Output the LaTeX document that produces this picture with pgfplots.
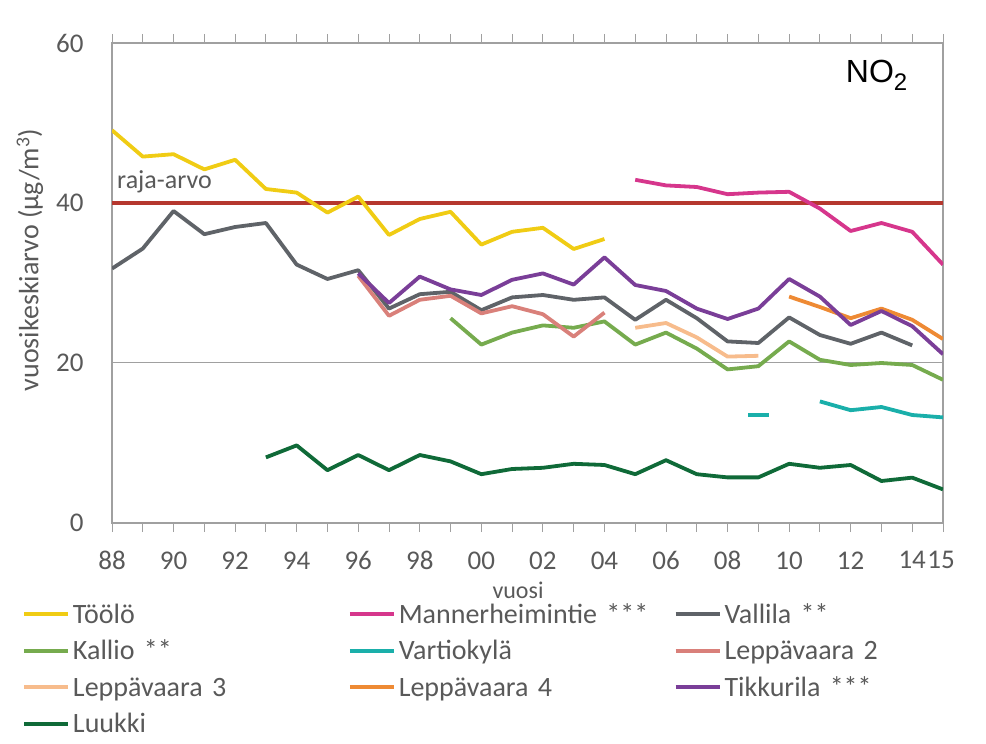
\documentclass[border=0pt]{standalone}
\usepackage{pgfplots}
\pgfplotsset{compat=1.18}
\usepackage{fontspec}
\setmainfont{Carlito}
\newfontfamily\arialfont{Liberation Sans}
\definecolor{txt}{HTML}{595959}
\definecolor{axgray}{HTML}{A0A0A0}
\definecolor{rajared}{HTML}{B5372E}
\definecolor{cToolo}{HTML}{F0CC14}
\definecolor{cManner}{HTML}{D6368C}
\definecolor{cVallila}{HTML}{5F6368}
\definecolor{cKallio}{HTML}{76AB4E}
\definecolor{cVartio}{HTML}{1AAFAA}
\definecolor{cLepp2}{HTML}{D9807A}
\definecolor{cLepp3}{HTML}{F7BC8C}
\definecolor{cLepp4}{HTML}{EE8A34}
\definecolor{cTikk}{HTML}{7A3E98}
\definecolor{cLuukki}{HTML}{0F6A38}
\begin{document}
\begin{tikzpicture}
\path[use as bounding box] (0,0) rectangle (986bp,744bp);
\begin{axis}[
  at={(112bp,221bp)}, anchor=south west,
  scale only axis, width=831bp, height=480bp,
  xmin=1988, xmax=2015, ymin=0, ymax=60,
  xtick={1988,1990,1992,1994,1996,1998,2000,2002,2004,2006,2008,2010,2012,2014,2015},
  xticklabels={88,90,92,94,96,98,00,02,04,06,08,10,12,14,\hspace*{-4bp}15},
  minor xtick={1989,1991,1993,1995,1997,1999,2001,2003,2005,2007,2009,2011,2013},
  ytick={0,20,40,60},
  /pgf/number format/assume math mode=true,
  tick label style={font=\fontsize{27bp}{32bp}\selectfont, text=txt},
  xticklabel style={yshift=-16bp},
  yticklabel style={xshift=-16bp},
  tick align=outside, major tick length=9bp, minor tick length=9bp,
  xtick style={draw=axgray, line width=1bp},
  minor tick style={draw=axgray, line width=1bp},
  ytick style={draw=none},
  axis line style={draw=axgray, line width=1.2bp},
  ymajorgrids, grid style={draw=axgray, line width=1bp},
  xlabel={vuosi},
  xlabel style={at={(axis description cs:0.4886,0)}, anchor=base, yshift=-75bp, font=\fontsize{24bp}{28bp}\selectfont, text=txt, inner sep=0pt},
  ylabel={vuosikeskiarvo (µg/m\textsuperscript{3})},
  ylabel style={at={(axis description cs:-0.0987,0.548)}, anchor=center, font=\fontsize{28bp}{32bp}\selectfont, text=txt, inner sep=0pt},
  legend columns=3,
  legend style={at={(axis description cs:-0.1083,-0.1667)}, anchor=north west, draw=none, fill=none, inner sep=0pt,
    font=\fontsize{28bp}{34bp}\selectfont, text=txt, row sep=10.5bp,
    nodes={inner sep=0pt, text height=20bp, text depth=6bp, text width=275bp, align=left},
    /tikz/every odd column/.style={column sep=3bp},
    /tikz/every even column/.style={column sep=0pt}},
  legend cell align=left,
  legend image code/.code={\draw[#1, line width=3.8bp] (0bp,2bp) -- (44bp,2bp);},
  every axis plot/.append style={line width=3.8bp, line join=round},
]
\addplot[draw=rajared, line width=4.5bp, forget plot] coordinates {(1988,40) (2015,40)};
% Toolo
\addplot[cToolo] coordinates {(1988,49.1) (1989,45.8) (1990,46.1) (1991,44.2) (1992,45.4) (1993,41.75) (1994,41.3) (1995,38.8) (1996,40.8) (1997,36.0) (1998,38.0) (1999,38.9) (2000,34.8) (2001,36.4) (2002,36.9) (2003,34.25) (2004,35.5)};
\addlegendentry{Töölö}
% Mannerheimintie
\addplot[cManner] coordinates {(2005,42.9) (2006,42.2) (2007,42.0) (2008,41.1) (2009,41.3) (2010,41.4) (2011,39.3) (2012,36.5) (2013,37.5) (2014,36.4) (2015,32.3)};
\addlegendentry{Mannerheimintie ***}
% Vallila
\addplot[cVallila] coordinates {(1988,31.8) (1989,34.3) (1990,39.0) (1991,36.1) (1992,37.0) (1993,37.5) (1994,32.3) (1995,30.5) (1996,31.6) (1997,26.8) (1998,28.6) (1999,28.9) (2000,26.6) (2001,28.2) (2002,28.5) (2003,27.9) (2004,28.2) (2005,25.4) (2006,27.9) (2007,25.6) (2008,22.7) (2009,22.5) (2010,25.7) (2011,23.5) (2012,22.4) (2013,23.8) (2014,22.2)};
\addlegendentry{Vallila **}
% Kallio
\addplot[cKallio] coordinates {(1999,25.6) (2000,22.3) (2001,23.8) (2002,24.7) (2003,24.4) (2004,25.2) (2005,22.3) (2006,23.8) (2007,21.8) (2008,19.2) (2009,19.6) (2010,22.7) (2011,20.4) (2012,19.75) (2013,20.0) (2014,19.75) (2015,17.9)};
\addlegendentry{Kallio **}
% Vartiokyla
\addplot[cVartio] coordinates {(2011,15.2) (2012,14.1) (2013,14.5) (2014,13.5) (2015,13.2)};
\addlegendentry{Vartiokylä}
% Leppavaara 2
\addplot[cLepp2] coordinates {(1996,30.9) (1997,25.9) (1998,27.9) (1999,28.4) (2000,26.2) (2001,27.1) (2002,26.1) (2003,23.3) (2004,26.3)};
\addlegendentry{Leppävaara 2}
% Leppavaara 3
\addplot[cLepp3] coordinates {(2005,24.4) (2006,25.0) (2007,23.2) (2008,20.8) (2009,20.9)};
\addlegendentry{Leppävaara 3}
% Leppavaara 4
\addplot[cLepp4] coordinates {(2010,28.3) (2011,27.0) (2012,25.6) (2013,26.8) (2014,25.4) (2015,23.0)};
\addlegendentry{Leppävaara 4}
% Tikkurila
\addplot[cTikk] coordinates {(1996,31.2) (1997,27.5) (1998,30.8) (1999,29.2) (2000,28.5) (2001,30.4) (2002,31.2) (2003,29.8) (2004,33.2) (2005,29.75) (2006,29.0) (2007,26.8) (2008,25.5) (2009,26.8) (2010,30.5) (2011,28.3) (2012,24.75) (2013,26.5) (2014,24.6) (2015,21.1)};
\addlegendentry{Tikkurila ***}
% Luukki
\addplot[cLuukki] coordinates {(1993,8.2) (1994,9.7) (1995,6.6) (1996,8.5) (1997,6.6) (1998,8.5) (1999,7.7) (2000,6.1) (2001,6.75) (2002,6.9) (2003,7.4) (2004,7.25) (2005,6.1) (2006,7.85) (2007,6.1) (2008,5.7) (2009,5.7) (2010,7.4) (2011,6.9) (2012,7.25) (2013,5.25) (2014,5.67) (2015,4.2)};
\addlegendentry{Luukki}
% Vartiokyla single value
\addplot[cVartio, only marks, mark=-, mark size=10.5bp, mark options={line width=4bp}, forget plot] coordinates {(2009,13.5)};
\node[anchor=base west, inner sep=0pt, font=\fontsize{26bp}{30bp}\selectfont, text=txt] at (axis cs:1988,40) [xshift=5bp, yshift=14.7bp] {raja-arvo};
\node[anchor=base west, inner sep=0pt, font=\arialfont\fontsize{32bp}{38bp}\selectfont] at (axis description cs:0.883,0.9167) {NO\raisebox{-8bp}{\fontsize{24bp}{24bp}\selectfont 2}};
\end{axis}
\end{tikzpicture}
\end{document}
